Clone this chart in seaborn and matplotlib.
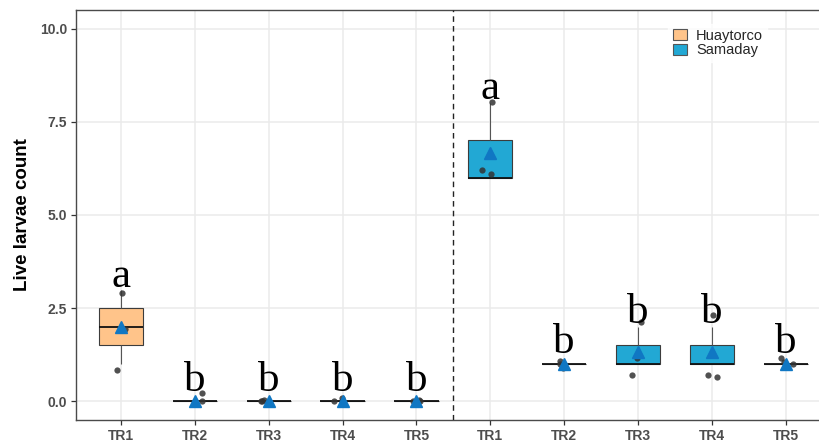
import numpy as np
import pandas as pd
import seaborn as sns
import matplotlib
matplotlib.use("Agg")
import matplotlib.pyplot as plt
from matplotlib.patches import Patch

# ---- data ---------------------------------------------------------------
sites = ["Huaytorco", "Samaday"]
treatments = ["TR1", "TR2", "TR3", "TR4", "TR5"]

# live larvae counts per replicate (3 replicates per treatment)
huaytorco_counts = [[3, 2, 1], [0, 0, 0], [0, 0, 0], [0, 0, 0], [0, 0, 0]]
samaday_counts = [[8, 6, 6], [1, 1, 1], [2, 1, 1], [2, 1, 1], [1, 1, 1]]

# jittered replicate values as plotted
huaytorco_points = [[2.90, 1.95, 0.83], [0.00, 0.22, 0.02], [0.00, 0.03, 0.01],
                    [0.10, 0.00, 0.02], [0.03, 0.00, 0.01]]
samaday_points = [[8.02, 6.22, 6.09], [1.07, 0.90, 1.00], [2.13, 1.17, 0.72],
                  [2.31, 0.65, 0.72], [1.17, 1.05, 1.00]]

# Tukey group letters and their heights
huaytorco_letters = ["a", "b", "b", "b", "b"]
samaday_letters = ["a", "b", "b", "b", "b"]
huaytorco_letter_y = [3.08, 0.29, 0.29, 0.29, 0.29]
samaday_letter_y = [8.12, 1.29, 2.09, 2.09, 1.29]

# ---- tidy tables --------------------------------------------------------
rows, prow = [], []
for site, counts, pts in [("Huaytorco", huaytorco_counts, huaytorco_points),
                          ("Samaday", samaday_counts, samaday_points)]:
    for tr, c, p in zip(treatments, counts, pts):
        key = f"{site} {tr}"
        for v in c:
            rows.append({"group": key, "site": site, "count": v})
        for v in p:
            prow.append({"group": key, "site": site, "count": v})
df = pd.DataFrame(rows)
dp = pd.DataFrame(prow)
order = [f"{s} {t}" for s in sites for t in treatments]
letters = huaytorco_letters + samaday_letters
letter_y = huaytorco_letter_y + samaday_letter_y

palette = {"Huaytorco": "#FFC48A", "Samaday": "#22A8D4"}

# ---- figure -------------------------------------------------------------
sns.set_theme(style="whitegrid")
plt.rcParams["font.family"] = ["Liberation Sans", "DejaVu Sans"]

fig = plt.figure(figsize=(8.19, 4.42), dpi=100)
ax = fig.add_axes([76 / 819, 22 / 442, 1 - 76 / 819, 410 / 442])

sns.boxplot(
    data=df, x="group", y="count", hue="site", order=order, palette=palette,
    saturation=1, dodge=False, width=0.6, showfliers=False, showcaps=False,
    showmeans=True, linecolor="#3C3C3C", linewidth=0.8, legend=False, ax=ax,
    meanprops={"marker": "^", "markerfacecolor": "#1077C3",
               "markeredgecolor": "#1077C3", "markersize": 8, "zorder": 6},
    medianprops={"color": "#111111", "linewidth": 1.3},
    whiskerprops={"color": "#555555", "linewidth": 0.8},
)

np.random.seed(3)
sns.stripplot(
    data=dp, x="group", y="count", order=order, color="#333333", alpha=0.85,
    size=4.5, jitter=0.12, linewidth=0, ax=ax, zorder=5,
)

for i, (lab, yy) in enumerate(zip(letters, letter_y)):
    ax.text(i, yy, lab, ha="center", va="baseline", fontsize=31,
            family=["Liberation Serif", "DejaVu Serif"], color="black", zorder=7)

ax.axvline(4.5, color="#222222", linestyle=(0, (4, 3)), linewidth=1.0, zorder=3)

ax.set_xlim(-0.61, 9.45)
ax.set_ylim(-0.5, 10.5)
ax.set_yticks([0, 2.5, 5.0, 7.5, 10.0])
ax.set_yticklabels(["0.0", "2.5", "5.0", "7.5", "10.0"])
ax.set_xticks(range(len(order)))
ax.set_xticklabels(treatments * 2)

ax.set_xlabel("")
ax.set_ylabel("Live larvae count", fontsize=13.5, fontweight="bold",
              color="black", labelpad=6)

ax.set_facecolor("white")
ax.grid(True, color="#EBEBEB", linewidth=1.1)
ax.set_axisbelow(True)
for side in ["left", "top", "bottom"]:
    ax.spines[side].set_visible(True)
    ax.spines[side].set_color("#4A4A4A")
    ax.spines[side].set_linewidth(1.0)
ax.spines["right"].set_visible(False)

ax.tick_params(axis="both", which="major", length=3.5, width=0.9,
               color="#333333", labelcolor="#4D4D4D", labelsize=10,
               bottom=True, left=True, pad=3)
for t in ax.get_xticklabels() + ax.get_yticklabels():
    t.set_fontweight("bold")

handles = [Patch(facecolor=palette[s], edgecolor="#555555", linewidth=0.8,
                 label=s) for s in sites]
leg = ax.legend(handles=handles, loc="upper left",
                bbox_to_anchor=(661 / 819, 1 - 17 / 442),
                bbox_transform=fig.transFigure, frameon=True, fontsize=10.5,
                handlelength=1.0, handleheight=0.8, handletextpad=0.6,
                labelspacing=0.05, borderpad=0.3)
leg.get_frame().set_facecolor("white")
leg.get_frame().set_edgecolor("white")
leg.set_zorder(8)

fig.savefig("out.png", dpi=100)
